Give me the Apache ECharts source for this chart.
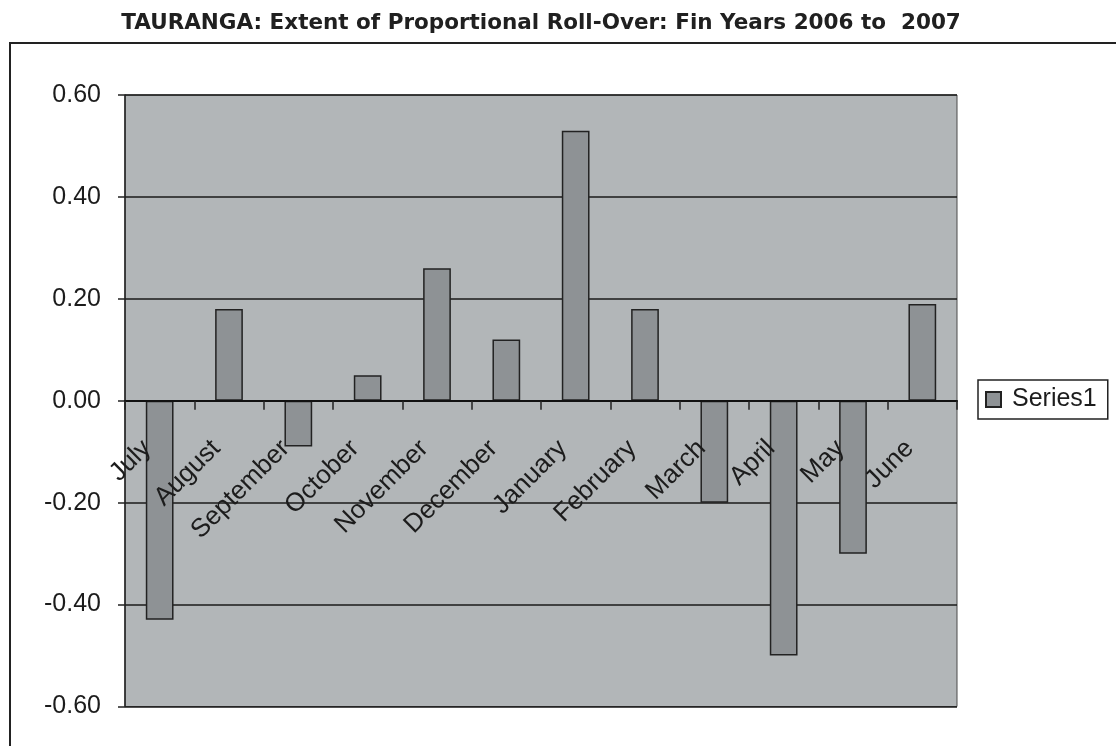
<!DOCTYPE html>
<html>
<head>
<meta charset="utf-8">
<title>TAURANGA Roll-Over</title>
<script src="https://cdn.jsdelivr.net/npm/echarts@6/dist/echarts.min.js"></script>
<style>
  html, body { margin: 0; padding: 0; background: #ffffff; }
  #chart { width: 1116px; height: 746px; }
</style>
</head>
<body>
<div id="chart"></div>
<script>
// Monthly proportional roll-over, financial years 2006 to 2007
const months = ['July', 'August', 'September', 'October', 'November', 'December',
                'January', 'February', 'March', 'April', 'May', 'June'];
const series1 = [-0.43, 0.18, -0.09, 0.05, 0.26, 0.12, 0.53, 0.18, -0.20, -0.50, -0.30, 0.19];
const yMin = -0.6;
const yMax = 0.6;
const yStep = 0.2;
const chartTitle = 'TAURANGA: Extent of Proportional Roll-Over: Fin Years 2006 to  2007';
const seriesName = 'Series1';

const ink = '#1c1c1c';
const labelGap = 31;   // distance of month labels below the zero line
const chart = echarts.init(document.getElementById('chart'), null, { renderer: 'canvas' });

chart.setOption({
  backgroundColor: '#ffffff',
  animation: false,
  title: {
    text: chartTitle,
    left: 536,
    textAlign: 'center',
    top: 7,
    textStyle: { fontFamily: 'DejaVu Sans', fontWeight: 'bold', fontSize: 21.5, color: '#202020' }
  },
  graphic: [{
    // outer chart-area frame
    type: 'rect',
    z: -10,
    shape: { x: 10, y: 43, width: 1200, height: 800 },
    style: { fill: 'none', stroke: '#222', lineWidth: 2 }
  }],
  legend: {
    left: 978,
    top: 380,
    orient: 'vertical',
    data: [seriesName],
    icon: 'rect',
    itemWidth: 15,
    itemHeight: 15,
    padding: [7, 11, 7, 7],
    borderColor: '#222',
    borderWidth: 1.5,
    backgroundColor: '#ffffff',
    textStyle: { fontFamily: 'Liberation Sans', fontSize: 25, color: ink, padding: [0, 0, 0, 6] }
  },
  grid: {
    left: 125,
    right: 159,
    top: 95,
    bottom: 39.5,
    outerBoundsMode: 'none',
    containLabel: false,
    show: true,
    backgroundColor: '#b2b6b8',
    borderColor: '#4a4a4a',
    borderWidth: 1
  },
  xAxis: {
    type: 'category',
    data: months,
    z: 10,
    axisLine: { onZero: true, lineStyle: { color: '#111', width: 2 } },
    axisTick: { show: true, length: 9, lineStyle: { color: '#222', width: 1.5 } },
    axisLabel: {
      interval: 0,
      rotate: 45,
      margin: labelGap,
      padding: [0, 18, 0, 0],
      hideOverlap: false,
      fontFamily: 'Liberation Sans',
      fontSize: 26,
      color: ink
    },
    splitLine: { show: false }
  },
  yAxis: {
    type: 'value',
    min: yMin,
    max: yMax,
    interval: yStep,
    axisLine: { show: true, lineStyle: { color: '#222', width: 1.5 } },
    axisTick: { show: true, length: 7, lineStyle: { color: '#222', width: 1.5 } },
    axisLabel: {
      margin: 24,
      fontFamily: 'Liberation Sans',
      fontSize: 25,
      color: ink,
      formatter: v => (Math.round(v * 100) / 100).toFixed(2)
    },
    splitLine: { show: true, lineStyle: { color: '#1a1a1a', width: 1.5 } }
  },
  series: [{
    name: seriesName,
    type: 'bar',
    data: series1,
    barWidth: '40%',
    itemStyle: { color: '#8e9295', borderColor: '#222', borderWidth: 1.5 }
  }]
});

// Month labels hang just below the zero line, inside the plot area:
// shift them up by the distance between the plot's lower edge and zero.
const zeroY = chart.convertToPixel({ yAxisIndex: 0 }, 0);
const floorY = chart.convertToPixel({ yAxisIndex: 0 }, yMin);
chart.setOption({ xAxis: { axisLabel: { margin: labelGap - (floorY - zeroY) } } });
</script>
</body>
</html>
